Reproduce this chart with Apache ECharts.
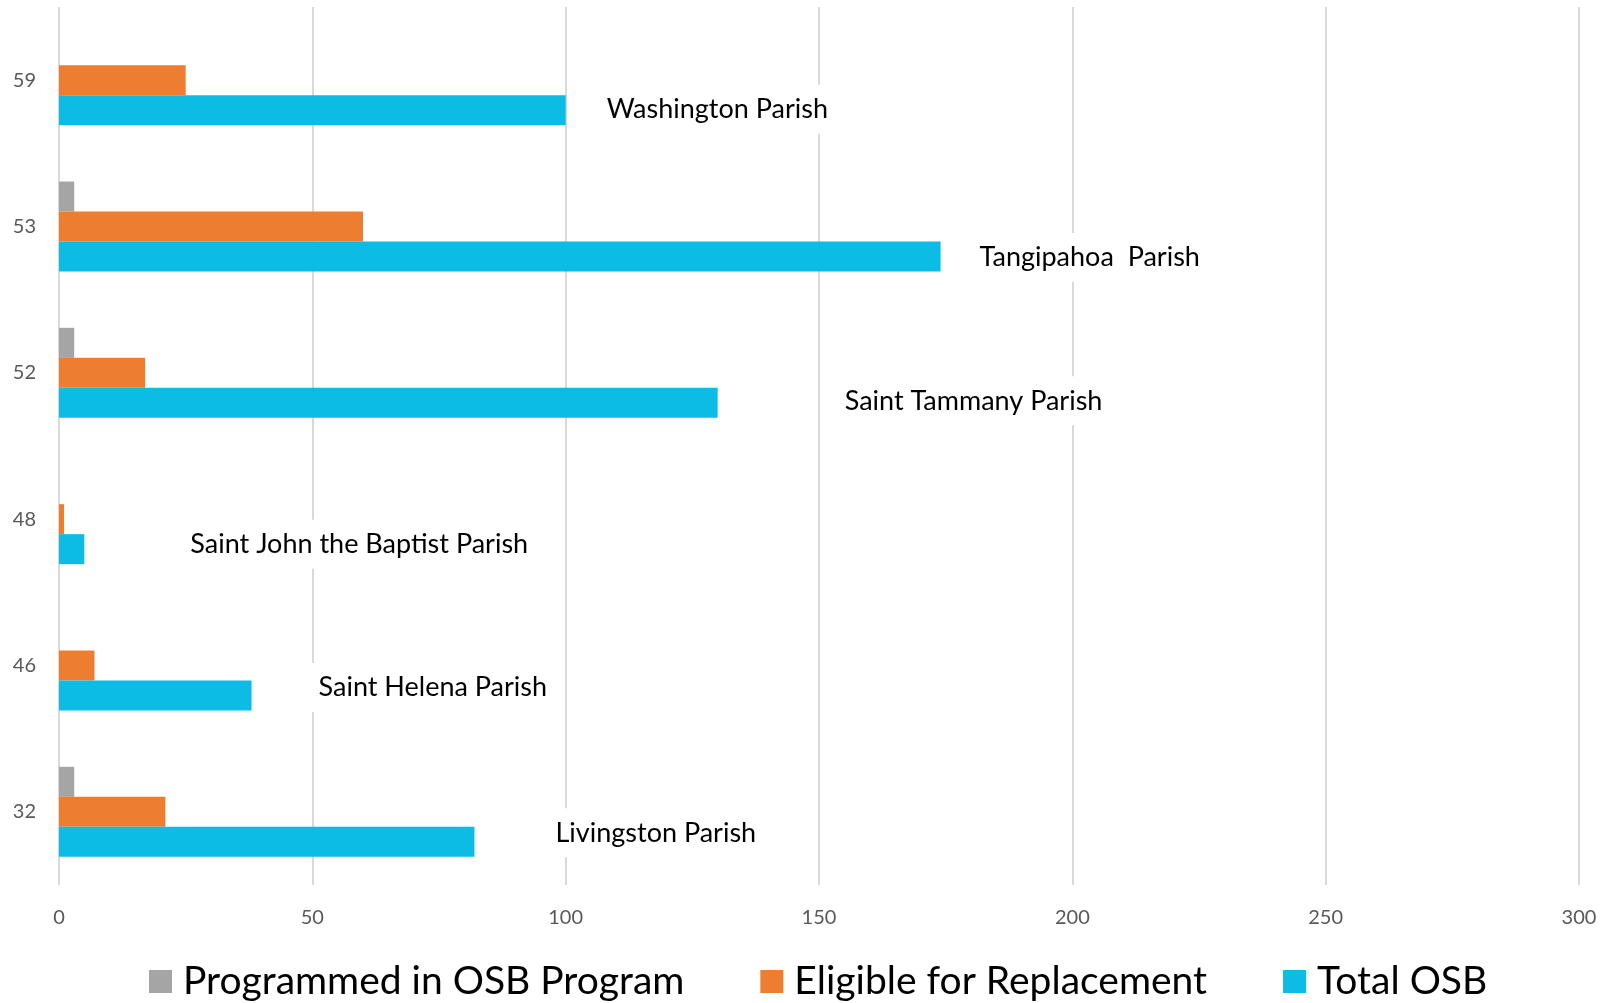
<!DOCTYPE html>
<html>
<head>
<meta charset="utf-8">
<script src="https://cdn.jsdelivr.net/npm/echarts@6/dist/echarts.min.js"></script>
<style>
  html, body { margin: 0; padding: 0; background: #fff; }
  #main { width: 1608px; height: 1003px; }
</style>
</head>
<body>
<div id="main"></div>
<script>
// data (bottom to top on the category axis)
var categories = ['32', '46', '48', '52', '53', '59'];
var parishNames = ['Livingston Parish', 'Saint Helena Parish', 'Saint John the Baptist Parish',
  'Saint Tammany Parish', 'Tangipahoa  Parish', 'Washington Parish'];
var programmed = [3, 0, 0, 3, 3, 0];
var eligible = [21, 7, 1, 17, 60, 25];
var totalOsb = [82, 38, 5, 130, 174, 100];
var xTicks = [0, 50, 100, 150, 200, 250, 300];

// where each parish name sits relative to the end of its bar (px)
var labelShift = [[71, -9], [57, -8], [96, -5], [117, -2], [29, 1], [31, -1]];

var font = 'Lato, "Open Sans", sans-serif';

var myChart = echarts.init(document.getElementById('main'));

var totalData = totalOsb.map(function (v, i) {
    return {
        value: v,
        label: {
            show: true,
            formatter: parishNames[i],
            offset: labelShift[i]
        }
    };
});

var option = {
    animation: false,
    textStyle: { fontFamily: font },
    grid: { left: 59, right: 29, top: 7, bottom: 118, containLabel: false },
    legend: {
        left: 149,
        top: 962,
        padding: 0,
        itemWidth: 23,
        itemHeight: 23,
        itemGap: 76,
        icon: 'rect',
        textStyle: { fontSize: 39, color: '#000', fontFamily: font, padding: [0, 0, 0, 6] },
        data: ['Programmed in OSB Program', 'Eligible for Replacement', 'Total OSB']
    },
    xAxis: {
        type: 'value',
        min: xTicks[0],
        max: xTicks[xTicks.length - 1],
        interval: 50,
        axisLine: { show: false },
        axisTick: { show: false },
        axisLabel: { fontSize: 20, color: '#595959', margin: 23, fontFamily: font },
        splitLine: { lineStyle: { color: '#d9d9d9', width: 2 } }
    },
    yAxis: {
        type: 'category',
        data: categories,
        axisLine: { show: false },
        axisTick: { show: false },
        axisLabel: { fontSize: 20, color: '#595959', margin: 23, fontFamily: font }
    },
    series: [{
        name: 'Programmed in OSB Program',
        type: 'bar',
        barWidth: 30,
        barGap: '0%',
        itemStyle: { color: '#a5a5a5' },
        data: programmed
    }, {
        name: 'Eligible for Replacement',
        type: 'bar',
        barWidth: 30,
        barGap: '0%',
        itemStyle: { color: '#ed7d31' },
        data: eligible
    }, {
        name: 'Total OSB',
        type: 'bar',
        barWidth: 30,
        barGap: '0%',
        itemStyle: { color: '#0cbce4' },
        label: {
            show: true,
            position: 'right',
            distance: 0,
            fontSize: 27,
            color: '#000',
            fontFamily: font,
            backgroundColor: '#fff',
            padding: [11, 10]
        },
        data: totalData
    }]
};

myChart.setOption(option);
</script>
</body>
</html>
